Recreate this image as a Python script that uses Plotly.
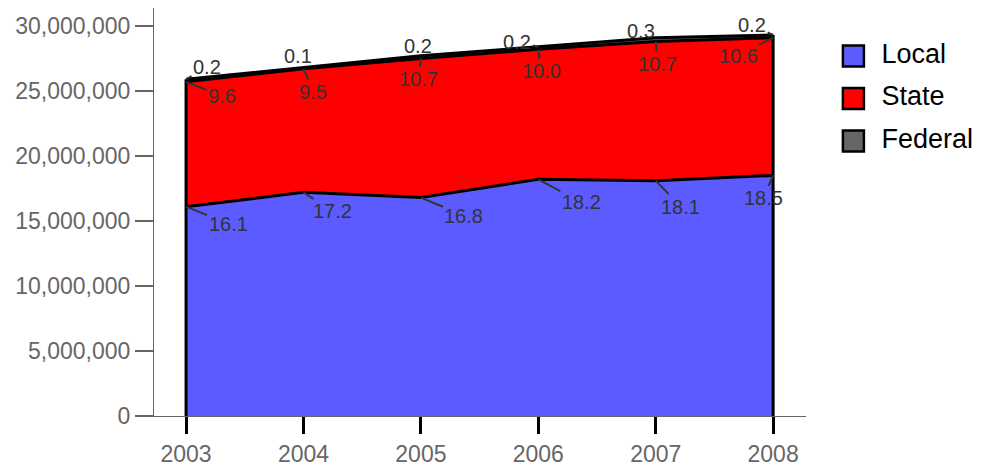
import plotly.graph_objects as go

years = [2003, 2004, 2005, 2006, 2007, 2008]
local = [16.1, 17.2, 16.8, 18.2, 18.1, 18.5]
state = [9.6, 9.5, 10.7, 10.0, 10.7, 10.6]
federal = [0.2, 0.1, 0.2, 0.2, 0.3, 0.2]
series_names = ["Local", "State", "Federal"]
series_colors = ["#5b5bff", "#ff0000", "#666666"]

# label offsets (pixels) from the top of each layer
local_off = [(42, 17), (29, 19), (43, 18), (43, 23), (25, 26), (-10, 23)]
state_off = [(36, 14), (10, 23), (-2, 21), (3, 22), (2, 22), (-35, 18)]
fed_off = [(21, -12), (-5, -12), (-3, -10), (-21, -5), (-15, -7), (-21, -10)]

M = 1e6
FONT = "Liberation Sans, Arial"
fig = go.Figure()
series = [local, state, federal]
for name, vals, col in zip(series_names, series, series_colors):
    fig.add_trace(go.Scatter(
        x=years, y=[v * M for v in vals], stackgroup="one", mode="lines",
        line=dict(color="black", width=3), fillcolor=col, name=name,
        hoverinfo="skip"))

totals = [a + b + c for a, b, c in zip(local, state, federal)]
for i in (0, len(years) - 1):
    fig.add_trace(go.Scatter(
        x=[years[i], years[i]], y=[0, totals[i] * M], mode="lines",
        line=dict(color="black", width=3), hoverinfo="skip"))

# legend drawn as its own small panel
fig.add_trace(go.Scatter(
    x=[0] * 3, y=series_names, mode="markers", xaxis="x2", yaxis="y2",
    marker=dict(symbol="square", size=21, color=series_colors,
                line=dict(color="black", width=2.5)),
    hoverinfo="skip"))
fig.add_trace(go.Scatter(
    x=[28] * 3, y=series_names, mode="text", text=series_names,
    textposition="middle right", xaxis="x2", yaxis="y2",
    textfont=dict(size=27, color="black", family=FONT), hoverinfo="skip"))

annotations = []
cum = [0.0] * len(years)
for vals, offs in zip(series, [local_off, state_off, fed_off]):
    for i, yr in enumerate(years):
        cum[i] += vals[i]
        annotations.append(dict(
            x=yr, y=cum[i] * M, text=f"{vals[i]:.1f}", showarrow=True,
            arrowhead=0, arrowwidth=2, arrowcolor="#333333",
            ax=offs[i][0], ay=offs[i][1],
            font=dict(size=20, color="#333333", family=FONT)))

xr = [2002.727, 2008.28]
fig.update_layout(
    width=984, height=469,
    margin=dict(l=146, r=0, t=0, b=61),
    plot_bgcolor="white", paper_bgcolor="white",
    font=dict(family=FONT, color="#666666", size=23),
    showlegend=False,
    xaxis=dict(domain=[0, 0.77804], range=xr, tickvals=years,
               ticktext=[str(y) for y in years],
               showgrid=False, zeroline=False, showline=True,
               linecolor="#666666", linewidth=1, ticks="outside",
               ticklen=17, tickwidth=3, tickcolor="black",
               tickfont=dict(size=23, color="#666666")),
    yaxis=dict(range=[0, 31.38e6], tickvals=[i * 5e6 for i in range(7)],
               tickformat=",d", showgrid=False, zeroline=False,
               showline=True, linecolor="#666666", linewidth=1,
               ticks="outside", ticklen=18, tickwidth=2,
               tickcolor="#666666", tickfont=dict(size=23, color="#666666")),
    xaxis2=dict(domain=[0.80, 1.0], range=[-29, 138.6], visible=False,
                anchor="y2"),
    yaxis2=dict(domain=[0.622, 0.9345], type="category",
                categoryarray=series_names, range=[2.5, -0.5],
                visible=False, anchor="x2"),
    annotations=annotations,
)

fig.write_html("out.html")
